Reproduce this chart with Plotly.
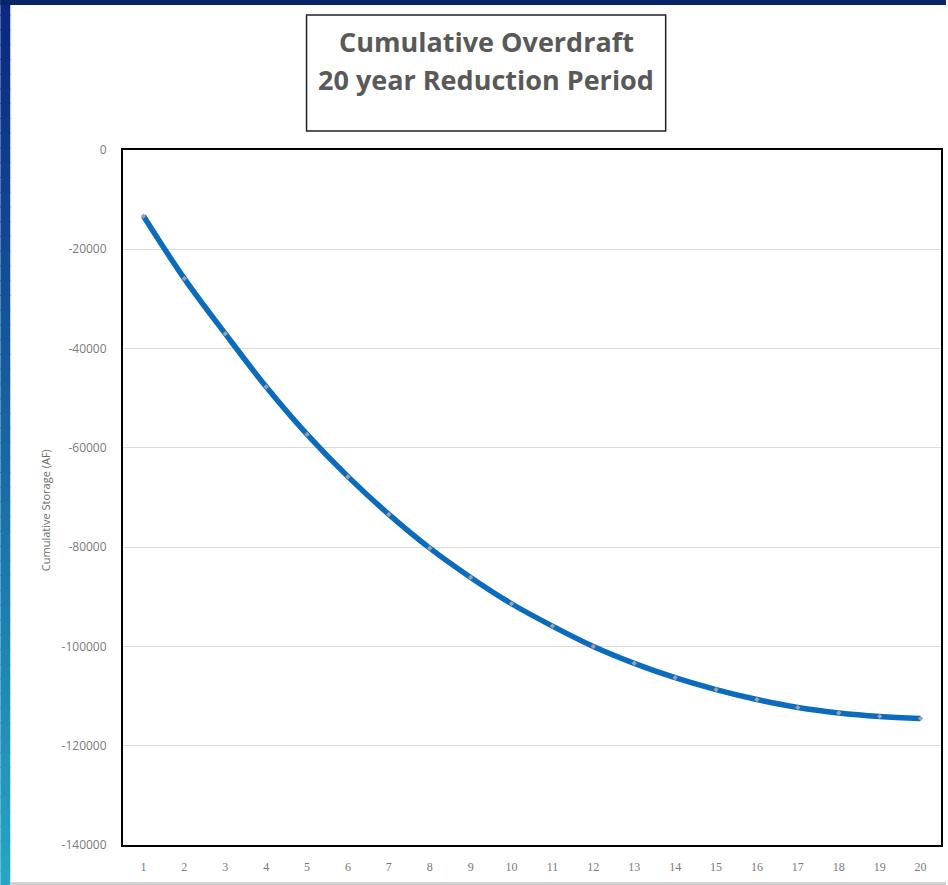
import plotly.graph_objects as go

# ---- data ----
years = list(range(1, 21))
cumulative_storage = [-13300, -25900, -37000, -47700, -57300, -65800, -73400, -80200,
                      -86100, -91400, -95900, -100000, -103400, -106300, -108700,
                      -110700, -112300, -113400, -114100, -114500]
y_tick_vals = [0, -20000, -40000, -60000, -80000, -100000, -120000, -140000]
y_tick_text = ["0", "-20000", "-40000", "-60000", "-80000", "-100000", "-120000", "-140000"]
title_lines = ["Cumulative Overdraft", "20 year Reduction Period"]
y_title = "Cumulative Storage (AF)"

W, H = 948, 885
L, R, T, B = 123, 5, 150, 40
PW, PH = W - L - R, H - T - B


def px_x(x):
    return (x - L) / PW


def px_y(y):
    return (H - B - y) / PH


fig = go.Figure()
fig.add_trace(go.Scatter(
    x=years, y=cumulative_storage, mode="lines+markers",
    line=dict(color="#0b6cbd", width=5.5, shape="spline", smoothing=1.0),
    marker=dict(color="#9aa3ab", size=4, symbol="diamond"),
    showlegend=False,
))

shapes = []
# left gradient strip
n = 60
top_c = (10, 40, 130)
bot_c = (40, 165, 195)
for i in range(n):
    f = i / (n - 1)
    c = tuple(int(top_c[k] + (bot_c[k] - top_c[k]) * f) for k in range(3))
    y0 = H * i / n
    y1 = H * (i + 1) / n + 1
    shapes.append(dict(type="rect", xref="paper", yref="paper",
                       x0=px_x(0), x1=px_x(10), y0=px_y(y1), y1=px_y(y0),
                       fillcolor="rgb(%d,%d,%d)" % c, line=dict(width=0), layer="below"))
# top strip
shapes.append(dict(type="rect", xref="paper", yref="paper",
                   x0=px_x(0), x1=px_x(W), y0=px_y(5), y1=px_y(0),
                   fillcolor="#0a2468", line=dict(width=0), layer="below"))
# bottom grey line
shapes.append(dict(type="rect", xref="paper", yref="paper",
                   x0=px_x(10), x1=px_x(W), y0=px_y(885), y1=px_y(882),
                   fillcolor="#d0d0d0", line=dict(width=0), layer="below"))
# title box
shapes.append(dict(type="rect", xref="paper", yref="paper",
                   x0=px_x(307), x1=px_x(667), y0=px_y(131), y1=px_y(15),
                   fillcolor="white", line=dict(color="#222222", width=1.5)))

annotations = [
    dict(text="<b>" + title_lines[0] + "</b>", xref="paper", yref="paper",
         x=px_x(487), y=px_y(41), showarrow=False, xanchor="center", yanchor="middle",
         font=dict(family="Open Sans, Lato, sans-serif", size=27, color="#595959")),
    dict(text="<b>" + title_lines[1] + "</b>", xref="paper", yref="paper",
         x=px_x(487), y=px_y(80), showarrow=False, xanchor="center", yanchor="middle",
         font=dict(family="Open Sans, Lato, sans-serif", size=27, color="#595959")),
    dict(text=y_title, xref="paper", yref="paper", textangle=-90,
         x=px_x(45), y=px_y(510), showarrow=False, xanchor="center", yanchor="middle",
         font=dict(family="Open Sans, sans-serif", size=11, color="#6b6b6b")),
]

fig.update_layout(
    width=W, height=H,
    margin=dict(l=L, r=R, t=T, b=B, pad=0),
    paper_bgcolor="white", plot_bgcolor="white",
    shapes=shapes, annotations=annotations,
    xaxis=dict(
        range=[0.5, 20.5], tickmode="array", tickvals=years, ticktext=[str(v) for v in years],
        showgrid=False, zeroline=False,
        showline=True, linecolor="black", linewidth=2, mirror=True,
        ticks="outside", ticklen=10, tickcolor="rgba(0,0,0,0)",
        tickfont=dict(family="Liberation Serif, serif", size=12, color="#7a7a7a"),
    ),
    yaxis=dict(
        range=[-140000, 0], tickmode="array", tickvals=y_tick_vals, ticktext=y_tick_text,
        showgrid=True, gridcolor="#d9d9d9", gridwidth=1, zeroline=False,
        showline=True, linecolor="black", linewidth=2, mirror=True,
        ticks="outside", ticklen=12, tickcolor="rgba(0,0,0,0)",
        tickfont=dict(family="Open Sans, sans-serif", size=12, color="#7a7a7a"),
    ),
)

fig.write_html("out.html", config={"displayModeBar": False},
               post_script="document.body.style.margin='0';document.body.style.overflow='hidden';")
